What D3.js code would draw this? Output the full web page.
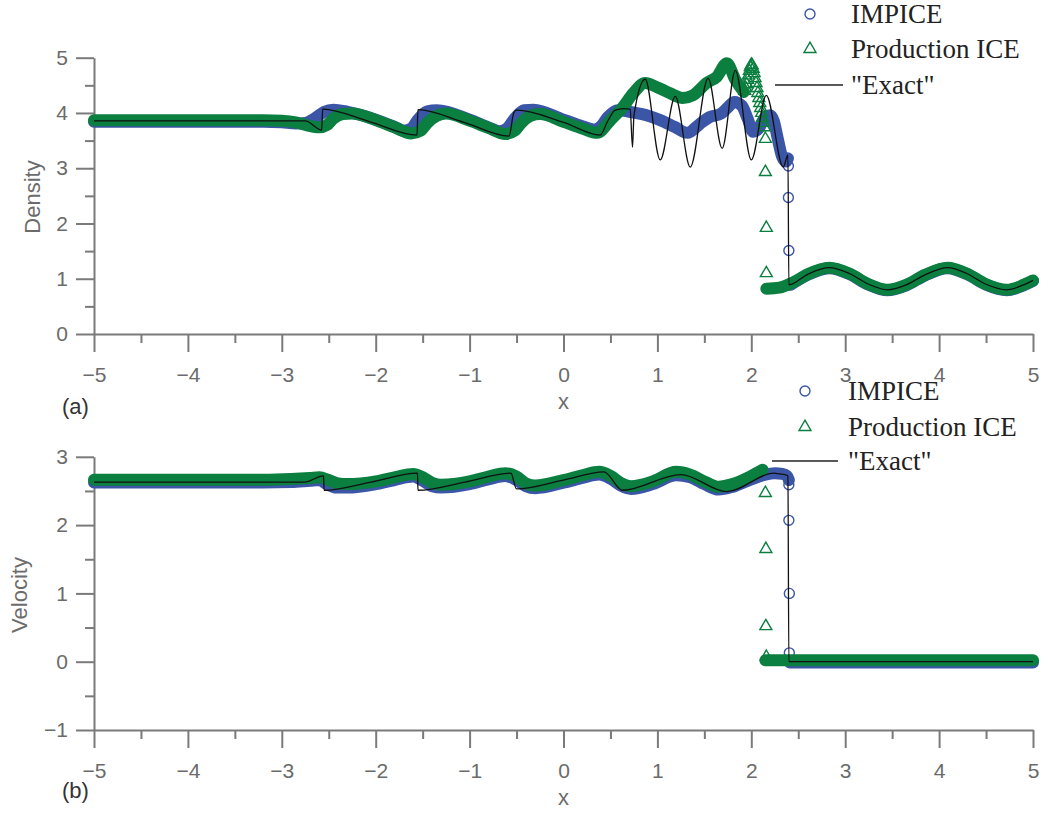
<!DOCTYPE html>
<html lang="en">
<head>
<meta charset="UTF-8">
<title>Density and velocity profiles</title>
<script src="https://d3js.org/d3.v7.min.js"></script>
<style>
  body { margin: 0; background: #fff; }
  .axis path, .axis line { stroke: #7a7a7a; stroke-width: 2; }
  .axis text { font-family: "Liberation Sans", Arial, sans-serif; font-size: 21px; fill: #6b6b6b; }
  .label { font-family: "Liberation Sans", Arial, sans-serif; font-size: 22px; fill: #6b6b6b; }
  .tag { font-family: "Liberation Sans", Arial, sans-serif; font-size: 22px; fill: #333; }
  .legend text { font-family: "Liberation Serif", "Times New Roman", serif; font-size: 27px; fill: #222; }
</style>
</head>
<body>
<svg id="chart" width="1042" height="813"></svg>
<script>
// ticks
var xTicks = [-5, -4, -3, -2, -1, 0, 1, 2, 3, 4, 5];
var densityTicks = [0, 1, 2, 3, 4, 5];
var velocityTicks = [-1, 0, 1, 2, 3];
var seriesNames = ["IMPICE", "Production ICE", "\"Exact\""];

// (a) density, [x, value]
var densityImpice = [[-5, 3.84], [-4, 3.84], [-3.2, 3.84], [-3.0, 3.83], [-2.85, 3.81], [-2.75, 3.82], [-2.65, 3.9],
  [-2.55, 4.02], [-2.45, 4.06], [-2.3, 4.02], [-2.0, 3.88], [-1.8, 3.75], [-1.7, 3.68], [-1.62, 3.72], [-1.55, 3.88],
  [-1.45, 4.03], [-1.35, 4.05], [-1.0, 3.88], [-0.8, 3.74], [-0.68, 3.67], [-0.6, 3.72], [-0.52, 3.9], [-0.42, 4.05],
  [-0.32, 4.06], [0.0, 3.88], [0.2, 3.76], [0.33, 3.7], [0.4, 3.76], [0.47, 3.92], [0.58, 4.05], [0.74, 4.01],
  [0.9, 3.95], [1.03, 3.87], [1.18, 3.75], [1.32, 3.64], [1.45, 3.8], [1.55, 3.92], [1.68, 3.99], [1.75, 4.1],
  [1.82, 4.2], [1.9, 4.13], [1.96, 3.9], [2.02, 3.66], [2.08, 3.72], [2.14, 3.9], [2.2, 3.96], [2.24, 3.85],
  [2.28, 3.55], [2.33, 3.2], [2.37, 3.12], [2.39, 3.18]];
var densityImpiceShock = [[2.395, 3.04], [2.395, 2.47], [2.4, 1.51]];
var densityImpiceRight = [[2.42, 0.89], [2.6, 1.07], [2.83, 1.19], [3.05, 1.08], [3.25, 0.89], [3.45, 0.79], [3.65, 0.88],
  [3.85, 1.06], [4.09, 1.19], [4.3, 1.08], [4.5, 0.89], [4.72, 0.79], [4.9, 0.88], [5.0, 0.96]];

var densityIce = [[-5, 3.87], [-4, 3.87], [-3.2, 3.87], [-3.0, 3.86], [-2.85, 3.83], [-2.72, 3.77], [-2.6, 3.74],
  [-2.52, 3.78], [-2.45, 3.9], [-2.35, 3.98], [-2.25, 3.99], [-2.0, 3.87], [-1.8, 3.74], [-1.62, 3.63], [-1.52, 3.68],
  [-1.45, 3.82], [-1.35, 3.95], [-1.25, 3.99], [-1.0, 3.86], [-0.8, 3.73], [-0.62, 3.62], [-0.52, 3.68], [-0.45, 3.82],
  [-0.35, 3.95], [-0.25, 3.98], [0.0, 3.84], [0.2, 3.72], [0.36, 3.64], [0.5, 3.87], [0.63, 4.1], [0.74, 4.35],
  [0.87, 4.54], [0.99, 4.47], [1.13, 4.36], [1.27, 4.27], [1.38, 4.32], [1.53, 4.55], [1.63, 4.65], [1.74, 4.9],
  [1.83, 4.6], [1.92, 4.38]];
var densityIceSparse = [[1.93, 4.4], [1.94, 4.45], [1.95, 4.52], [1.96, 4.6], [1.97, 4.68], [1.98, 4.76], [1.99, 4.83],
  [2.0, 4.87], [2.01, 4.86], [2.02, 4.8], [2.03, 4.72], [2.04, 4.63], [2.05, 4.54], [2.06, 4.45], [2.07, 4.36],
  [2.08, 4.27], [2.09, 4.18], [2.1, 4.09], [2.11, 4.0], [2.12, 3.91], [2.13, 3.82], [2.14, 3.74], [2.15, 3.53],
  [2.15, 2.93], [2.16, 1.92], [2.16, 1.1]];
var densityIceRight = [[2.16, 0.82], [2.3, 0.84], [2.45, 0.94], [2.6, 1.08], [2.83, 1.2], [3.05, 1.09], [3.25, 0.9],
  [3.45, 0.8], [3.65, 0.89], [3.85, 1.07], [4.09, 1.2], [4.3, 1.09], [4.5, 0.9], [4.72, 0.8], [4.9, 0.89], [5.0, 0.97]];

var densityExact = [[-5, 3.857], [-2.75, 3.857], [-2.575, 3.69], [-2.565, 4.07], [-2.06, 3.84], [-1.56, 3.6],
  [-1.55, 4.06], [-1.06, 3.83], [-0.58, 3.58], [-0.53, 4.0], [-0.5, 4.05], [0.0, 3.83], [0.39, 3.6], [0.47, 3.85],
  [0.55, 4.05], [0.64, 4.08], [0.71, 4.07], [0.735, 3.38], [0.75, 3.95], [0.87, 4.61], [1.03, 3.15], [1.19, 4.3],
  [1.35, 3.02], [1.54, 4.63], [1.69, 3.36], [1.83, 4.77], [2.0, 3.15], [2.16, 4.32], [2.34, 3.02], [2.39, 3.24],
  [2.4, 0.89], [2.6, 1.08], [2.83, 1.2], [3.05, 1.09], [3.25, 0.9], [3.45, 0.8], [3.65, 0.89], [3.85, 1.07],
  [4.09, 1.2], [4.3, 1.09], [4.5, 0.9], [4.72, 0.8], [4.9, 0.89], [5.0, 0.97]];

// (b) velocity, [x, value]
var velocityImpice = [[-5, 2.625], [-3.2, 2.625], [-2.9, 2.63], [-2.7, 2.65], [-2.6, 2.66], [-2.52, 2.6], [-2.42, 2.55],
  [-2.3, 2.55], [-2.0, 2.6], [-1.8, 2.66], [-1.6, 2.71], [-1.5, 2.65], [-1.4, 2.57], [-1.3, 2.55], [-1.0, 2.6],
  [-0.8, 2.67], [-0.62, 2.72], [-0.5, 2.66], [-0.4, 2.57], [-0.3, 2.54], [0.0, 2.62], [0.2, 2.69], [0.38, 2.74],
  [0.5, 2.68], [0.62, 2.57], [0.72, 2.53], [0.95, 2.6], [1.2, 2.73], [1.35, 2.7], [1.5, 2.6], [1.65, 2.52],
  [1.8, 2.56], [2.0, 2.67], [2.15, 2.74], [2.25, 2.76], [2.33, 2.75], [2.38, 2.72], [2.4, 2.66]];
var velocityImpiceShock = [[2.4, 2.59], [2.4, 2.07], [2.405, 1.0], [2.405, 0.13]];
var velocityImpiceRight = [[2.41, -0.01], [5.0, -0.01]];

var velocityIce = [[-5, 2.665], [-3.2, 2.665], [-2.9, 2.675], [-2.7, 2.69], [-2.6, 2.7], [-2.5, 2.66], [-2.4, 2.61],
  [-2.3, 2.6], [-2.0, 2.64], [-1.8, 2.7], [-1.6, 2.75], [-1.5, 2.7], [-1.4, 2.62], [-1.3, 2.59], [-1.0, 2.64],
  [-0.8, 2.71], [-0.62, 2.76], [-0.5, 2.71], [-0.4, 2.61], [-0.3, 2.58], [0.0, 2.66], [0.2, 2.73], [0.38, 2.78],
  [0.5, 2.72], [0.62, 2.61], [0.72, 2.57], [0.95, 2.64], [1.2, 2.78], [1.35, 2.74], [1.5, 2.64], [1.65, 2.56],
  [1.8, 2.6], [2.0, 2.72], [2.12, 2.81]];
var velocityIceSparse = [[2.15, 2.47], [2.155, 1.65], [2.155, 0.52], [2.16, 0.07]];
var velocityIceRight = [[2.15, 0.02], [5.0, 0.02]];

var velocityExact = [[-5, 2.629], [-2.76, 2.629], [-2.555, 2.72], [-2.55, 2.51], [-2.05, 2.63], [-1.555, 2.76],
  [-1.55, 2.51], [-1.05, 2.63], [-0.56, 2.76], [-0.5, 2.53], [0.0, 2.66], [0.43, 2.78], [0.63, 2.51], [1.25, 2.74],
  [1.74, 2.49], [2.24, 2.76], [2.3, 2.75], [2.36, 2.74], [2.39, 2.72], [2.4, 0.0], [5.0, 0.0]];

var blue = "#3b55a7", green = "#0a7f3f";
var svg = d3.select("#chart");

var x = d3.scaleLinear().domain([-5, 5]).range([94, 1033]);
var yDensity = d3.scaleLinear().domain([0, 5]).range([334, 57.7]);
var yVelocity = d3.scaleLinear().domain([-1, 3]).range([730, 456.8]);

var circle = d3.symbol(d3.symbolCircle, 78);
var triangle = d3.symbol(d3.symbolTriangle, 62);

function halves(ticks) {
  return ticks.slice(0, -1).map(d => d + 0.5);
}

function drawAxes(y, yTicks) {
  var yBase = y.range()[0];
  var g = svg.append("g");
  // minor ticks first, then majors with the axis line
  g.append("g").attr("class", "axis").attr("transform", "translate(0," + yBase + ")")
    .call(d3.axisBottom(x).tickValues(halves(xTicks)).tickSize(9).tickSizeOuter(0).tickFormat(""))
    .select(".domain").remove();
  g.append("g").attr("class", "axis").attr("transform", "translate(0," + yBase + ")")
    .call(d3.axisBottom(x).tickValues(xTicks).tickSize(18).tickSizeOuter(0).tickPadding(15).tickFormat(d3.format("d")));
  g.append("g").attr("class", "axis").attr("transform", "translate(" + x(-5) + ",0)")
    .call(d3.axisLeft(y).tickValues(halves(yTicks)).tickSize(9).tickSizeOuter(0).tickFormat(""))
    .select(".domain").remove();
  g.append("g").attr("class", "axis").attr("transform", "translate(" + x(-5) + ",0)")
    .call(d3.axisLeft(y).tickValues(yTicks).tickSize(18).tickSizeOuter(0).tickPadding(8).tickFormat(d3.format("d")));
  g.selectAll(".domain").attr("fill", "none");
}

// dense samples melt into a solid band; isolated samples keep their markers
function drawSeries(y, bands, sparse, color, marker) {
  var line = d3.line().x(d => x(d[0])).y(d => y(d[1])).curve(d3.curveMonotoneX);
  var g = svg.append("g");
  bands.forEach(function(b) {
    g.append("path").attr("d", line(b))
      .attr("fill", "none").attr("stroke", color).attr("stroke-width", 12)
      .attr("stroke-linecap", "round").attr("stroke-linejoin", "round");
  });
  g.selectAll(".pt").data(sparse).enter().append("path")
    .attr("class", "pt")
    .attr("transform", d => "translate(" + x(d[0]) + "," + y(d[1]) + ")")
    .attr("d", marker)
    .attr("fill", "none").attr("stroke", color).attr("stroke-width", 1.4);
}

function drawExact(y, data) {
  var line = d3.line().x(d => x(d[0])).y(d => y(d[1])).curve(d3.curveMonotoneX);
  svg.append("path").attr("d", line(data))
    .attr("fill", "none").attr("stroke", "#111").attr("stroke-width", 1.3);
}

function drawLegend(mx, lx, tx, ys) {
  var g = svg.append("g").attr("class", "legend");
  g.append("path").attr("transform", "translate(" + mx + "," + ys[0] + ")").attr("d", circle)
    .attr("fill", "none").attr("stroke", blue).attr("stroke-width", 1.4);
  g.append("path").attr("transform", "translate(" + mx + "," + ys[1] + ")").attr("d", triangle)
    .attr("fill", "none").attr("stroke", green).attr("stroke-width", 1.4);
  g.append("line").attr("x1", lx[0]).attr("x2", lx[1]).attr("y1", ys[2]).attr("y2", ys[2])
    .attr("stroke", "#222").attr("stroke-width", 1.4);
  seriesNames.forEach(function(name, i) {
    g.append("text").attr("x", tx).attr("y", ys[i]).attr("dy", "0.33em").text(name);
  });
}

// panel (a)
drawAxes(yDensity, densityTicks);
drawSeries(yDensity, [densityImpice, densityImpiceRight], densityImpiceShock, blue, circle);
drawSeries(yDensity, [densityIce, densityIceRight], densityIceSparse, green, triangle);
drawExact(yDensity, densityExact);

// panel (b)
drawAxes(yVelocity, velocityTicks);
drawSeries(yVelocity, [velocityImpice, velocityImpiceRight], velocityImpiceShock, blue, circle);
drawSeries(yVelocity, [velocityIce, velocityIceRight], velocityIceSparse, green, triangle);
drawExact(yVelocity, velocityExact);

// axis titles and panel tags
svg.append("text").attr("class", "label").attr("text-anchor", "middle")
  .attr("transform", "translate(40,197)rotate(-90)").text("Density");
svg.append("text").attr("class", "label").attr("text-anchor", "middle")
  .attr("transform", "translate(27,595)rotate(-90)").text("Velocity");
svg.append("text").attr("class", "label").attr("text-anchor", "middle").attr("x", x(0)).attr("y", 409).text("x");
svg.append("text").attr("class", "label").attr("text-anchor", "middle").attr("x", x(0)).attr("y", 805).text("x");
svg.append("text").attr("class", "tag").attr("x", 62).attr("y", 414).text("(a)");
svg.append("text").attr("class", "tag").attr("x", 62).attr("y", 798).text("(b)");

drawLegend(810, [775, 843], 851, [14, 49, 85]);
drawLegend(805, [772, 838], 848, [391, 427, 461]);
</script>
</body>
</html>
